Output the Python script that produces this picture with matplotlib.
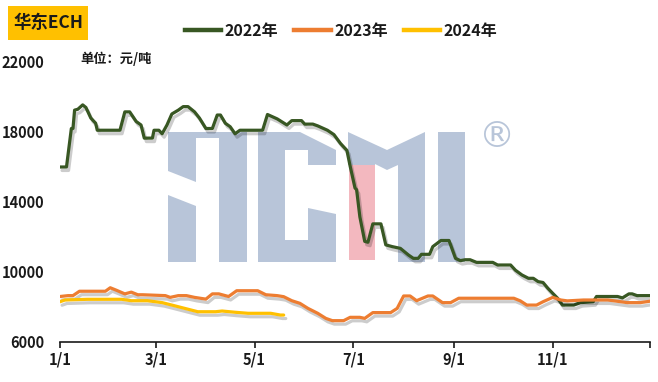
import matplotlib
matplotlib.use("Agg")
import matplotlib.pyplot as plt
import matplotlib.patheffects as pe
from matplotlib.patches import Polygon, Rectangle
from matplotlib.lines import Line2D
import pandas as pd

plt.rcParams['font.family'] = ['Noto Sans CJK SC', 'DejaVu Sans']

# ---------------- data ----------------
dates_2022 = ["01-01","01-05","01-08","01-09","01-10","01-12","01-15","01-17","01-20","01-23",
              "01-24","02-07","02-10","02-13","02-17","02-20","02-22","02-27","02-28","03-03",
              "03-05","03-08","03-11","03-15","03-18","03-21","03-25","03-28","04-01","04-05",
              "04-08","04-10","04-13","04-16","04-19","04-22","05-06","05-09","05-15","05-21",
              "05-24","05-30","06-01","06-06","06-09","06-15","06-19","06-23","06-27","06-29",
              "07-02","07-03","07-05","07-08","07-10","07-13","07-18","07-21","07-25","07-30",
              "08-04","08-07","08-10","08-12","08-17","08-19","08-24","08-29","09-02","09-05",
              "09-08","09-11","09-15","09-25","09-28","10-06","10-09","10-13","10-17","10-20",
              "10-23","10-26","10-29","11-01","11-04","11-07","11-14","11-18","11-26","11-28",
              "12-11","12-14","12-18","12-20","12-23","12-31"]
values_2022 = [16000,16000,18200,18200,19250,19300,19550,19400,18800,18500,
               18100,18100,19150,19150,18600,18400,17650,17650,18100,18100,
               17900,18400,19030,19250,19450,19450,19150,18800,18200,18200,
               18970,18970,18500,18300,17900,18100,18100,19000,18750,18400,
               18650,18650,18450,18450,18350,18100,17850,17350,16950,16050,
               14800,14700,13150,11750,11700,12750,12750,11550,11450,11350,
               10970,10780,10780,11010,11010,11450,11800,11800,10780,10650,
               10700,10700,10550,10550,10400,10400,10100,9830,9640,9640,
               9450,9400,9070,8780,8500,8110,8110,8250,8300,8600,
               8600,8520,8750,8750,8650,8650]

dates_2023 = ["01-01","01-06","01-09","01-13","01-29","02-01","02-05","02-10","02-14","02-18",
              "02-21","03-07","03-10","03-15","03-20","03-25","04-01","04-05","04-09","04-15",
              "04-20","05-01","05-03","05-08","05-15","05-19","05-24","05-29","06-03","06-09",
              "06-14","06-18","06-25","06-29","07-05","07-08","07-13","07-24","07-28","08-01",
              "08-05","08-09","08-16","08-19","08-25","08-30","09-04","10-08","10-12","10-16",
              "10-22","10-26","11-01","11-06","11-10","11-20","12-05","12-17","12-25","12-31"]
values_2023 = [8600,8650,8650,8900,8900,9100,8950,8750,8850,8700,
               8700,8650,8550,8650,8650,8550,8450,8750,8750,8600,
               8930,8930,8930,8700,8650,8590,8360,8210,7920,7640,
               7350,7220,7220,7410,7410,7350,7680,7680,7920,8630,
               8630,8360,8630,8630,8250,8250,8500,8500,8350,8110,
               8110,8300,8550,8400,8350,8400,8400,8250,8250,8330]

dates_2024 = ["01-01","01-04","01-18","02-08","02-14","02-24","03-05","03-11","03-19","03-27",
              "04-07","04-11","04-19","04-27","05-11","05-17","05-19"]
values_2024 = [8300,8400,8440,8440,8360,8360,8250,8110,7920,7730,
               7730,7770,7700,7640,7640,7540,7540]

series_names = ["2022年", "2023年", "2024年"]
series_colors = ["#385723", "#ED7D31", "#FFC000"]

tick_dates = ["01-01", "03-01", "05-01", "07-01", "09-01", "11-01", "12-31"]
tick_labels = ["1/1", "3/1", "5/1", "7/1", "9/1", "11/1", ""]
y_ticks = [6000, 10000, 14000, 18000, 22000]

title_text = "华东ECH"
unit_text = "单位：元/吨"


def to_day(md_list):
    return [(pd.Timestamp("2022-" + md) - pd.Timestamp("2022-01-01")).days for md in md_list]


# ---------------- figure ----------------
W, H = 658, 382
fig = plt.figure(figsize=(W / 100, H / 100), dpi=100)
ax = fig.add_axes([60 / W, 1 - 342 / H, 590 / W, 280 / H])


def fp(x, y):
    return (x / W, 1 - y / H)


# watermark (ACMI logo) in pixel coordinates
wm_blue = "#B8C5D9"
wm_pink = "#F3B8BF"
wm_shapes = [
    # A
    ([(168, 132), (247, 132), (247, 262), (219, 262), (219, 138), (168, 138)], wm_blue),
    ([(168, 132), (196, 132), (196, 182), (168, 171)], wm_blue),
    ([(168, 195), (196, 206), (196, 262), (168, 262)], wm_blue),
    # C
    ([(258, 132), (300, 132), (336, 150), (336, 165), (308, 165), (308, 150), (285, 150),
      (285, 240), (308, 240), (308, 208), (336, 214), (336, 262), (258, 262)], wm_blue),
    # M
    ([(348, 132), (387, 150), (425, 132), (425, 262), (398, 262), (398, 165), (387, 170),
      (375, 164), (375, 165), (348, 165)], wm_blue),
    ([(349, 165), (375, 165), (375, 260), (349, 260)], wm_pink),
    # I
    ([(438, 132), (465, 132), (465, 262), (438, 262)], wm_blue),
]
for pts, col in wm_shapes:
    poly = Polygon([fp(x, y) for x, y in pts], closed=True, transform=fig.transFigure,
                   facecolor=col, edgecolor='none', zorder=0.5, clip_on=False)
    ax.add_patch(poly)
fig.text(497 / W, 1 - 137 / H, "®", color=wm_blue, fontsize=26, ha='center', va='center',
         family='DejaVu Sans', zorder=0.5)

# lines
shadow = [pe.SimpleLineShadow(offset=(1.5, -2.5), shadow_color='black', alpha=0.2), pe.Normal()]
all_dates = [dates_2022, dates_2023, dates_2024]
all_values = [values_2022, values_2023, values_2024]
for d, v, c, n in zip(all_dates, all_values, series_colors, series_names):
    ax.plot(to_day(d), v, color=c, lw=2.3, label=n, path_effects=shadow, zorder=3,
            solid_joinstyle='round', solid_capstyle='round')

ax.set_xlim(0, 364)
ax.set_ylim(6000, 22000)
ax.set_xticks(to_day(tick_dates))
ax.set_xticklabels(tick_labels)
ax.set_yticks(y_ticks)
ax.set_yticklabels([str(t) for t in y_ticks])

for s in ['left', 'right', 'top']:
    ax.spines[s].set_visible(False)
ax.spines['bottom'].set_color('#1a1a1a')
ax.spines['bottom'].set_linewidth(1.2)
ax.tick_params(axis='x', direction='out', length=4, width=1.2, color='#1a1a1a', pad=3,
               labelsize=10.5)
ax.tick_params(axis='y', length=0, pad=11, labelsize=10.5)
for lab in ax.get_xticklabels() + ax.get_yticklabels():
    lab.set_fontweight('bold')
    lab.set_color('#1a1a1a')

# legend
handles = [Line2D([0], [0], color=c, lw=3.2) for c in series_colors]
leg = fig.legend(handles, series_names, loc='center', bbox_to_anchor=(341 / W, 1 - 31 / H),
                 ncol=3, frameon=False, handlelength=2.3, handletextpad=0.2,
                 columnspacing=1.0, prop={'weight': 'bold', 'size': 11.5})
for t in leg.get_texts():
    t.set_color('#1a1a1a')

# title box
fig.add_artist(Rectangle(fp(8, 40), 80 / W, 34 / H, transform=fig.transFigure,
                         facecolor="#FFC000", edgecolor='none'))
fig.text(48 / W, 1 - 23 / H, title_text, fontsize=12.5, fontweight='bold', color='#1a1a1a',
         ha='center', va='center')
fig.text(80 / W, 1 - 59 / H, unit_text, fontsize=9.5, fontweight='bold', color='#1a1a1a',
         ha='left', va='center')

fig.savefig("out.png", dpi=100)
